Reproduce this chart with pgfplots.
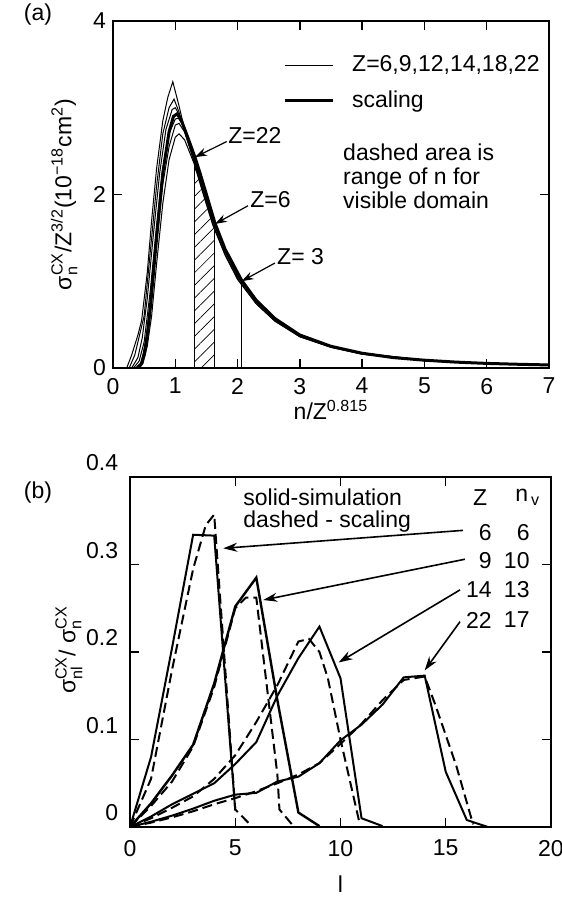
\documentclass[border=0pt]{standalone}
\usepackage{pgfplots}
\pgfplotsset{compat=1.18}
\usepackage{amsmath}
\usepackage{fontspec}
\setmainfont{Liberation Sans}
\usetikzlibrary{patterns.meta,arrows.meta}
\newcommand{\tf}{\fontsize{11.5}{13}\selectfont}
\newcommand{\lf}{\fontsize{11.5}{12}\selectfont}
\begin{document}
\begin{tikzpicture}
\useasboundingbox (0,0) rectangle (281pt,450pt);
\pgfplotsset{
  every axis/.append style={
    scale only axis, anchor=south west,
    tick align=inside, major tick length=4.5pt,
    axis line style={line width=0.85pt},
    every tick/.style={line width=0.7pt, black},
    ticklabel style={font=\tf},
    /pgf/number format/assume math mode=true,
    label style={font=\lf},
  }
}
% ---------------- panel (a) ----------------
\begin{axis}[
  at={(56.5pt,266pt)}, width=218pt, height=173.5pt,
  xmin=0, xmax=7, ymin=0, ymax=4,
  xtick={0,1,...,7}, ytick={0,2,4},
  xticklabel style={yshift=-1.5pt},
  xlabel={n/Z$^{\text{0.815}}$},
  xlabel style={at={(axis description cs:0.5,-0.121)}, anchor=center},
  ylabel={σ$^{\text{CX}}_{\text{n}}$/Z$^{\text{3/2}}$(10$^{\text{−18}}$cm$^{\text{2}}$)},
  ylabel style={at={(axis description cs:-0.112,0.5)}, anchor=center, rotate=0},
  legend style={at={(axis cs:2.63,3.285)}, anchor=west, draw=none, fill=none,
    font=\lf, row sep=8pt, nodes={inner sep=0pt},
    /tikz/every odd column/.append style={column sep=9pt}},
  legend cell align=left,
  legend image code/.code={\draw[#1] (0pt,0pt) -- (24pt,0pt);},
]
% hatched region (visible domain)
\addplot[draw=none, forget plot, pattern={Lines[angle=45,distance=4.5pt,line width=0.35pt]}]
  coordinates {(1.316,0) (1.316,2.43) (1.4,2.24) (1.5,2.0) (1.637,1.67) (1.637,0)} \closedcycle;
% thin curves Z=6,9,12,14,18,22
\addplot[line width=0.5pt] coordinates {(0.22,0) (0.3,0.15) (0.4,0.38) (0.46,0.55) (0.55,1.1) (0.62,1.7) (0.7,2.3) (0.8,2.85) (0.88,3.12) (0.96,3.3) (1.05,3.05) (1.15,2.75) (1.3,2.45) (1.45,2.1) (1.6,1.74) (1.8,1.37) (2.0,1.08) (2.3,0.78) (2.6,0.57) (3,0.38) (3.5,0.25) (4,0.17) (5,0.09) (6,0.053) (7,0.035)};
\addlegendentry{Z=6,9,12,14,18,22}
\addplot[line width=0.5pt, forget plot] coordinates {(0.26,0) (0.35,0.15) (0.44,0.42) (0.5,0.6) (0.6,1.35) (0.7,2.1) (0.8,2.7) (0.9,3.0) (0.98,3.1) (1.06,2.95) (1.15,2.72) (1.3,2.4) (1.45,2.05) (1.6,1.7) (1.8,1.34) (2.0,1.05) (2.3,0.76) (2.6,0.555) (3,0.37) (3.5,0.245) (4,0.165) (5,0.088) (6,0.052) (7,0.034)};
\addplot[line width=0.5pt, forget plot] coordinates {(0.3,0) (0.4,0.12) (0.47,0.35) (0.55,0.8) (0.65,1.55) (0.75,2.25) (0.85,2.75) (0.95,2.98) (1.0,3.0) (1.08,2.9) (1.15,2.76) (1.3,2.43) (1.45,2.08) (1.6,1.72) (1.8,1.35) (2.0,1.06) (2.3,0.77) (2.6,0.56) (3,0.375) (3.5,0.248) (4,0.168) (5,0.089) (6,0.053) (7,0.035)};
\addplot[line width=0.5pt, forget plot] coordinates {(0.33,0) (0.42,0.08) (0.5,0.3) (0.6,0.9) (0.7,1.65) (0.8,2.3) (0.9,2.7) (1.0,2.87) (1.05,2.88) (1.12,2.8) (1.3,2.47) (1.45,2.12) (1.6,1.75) (1.8,1.38) (2.0,1.09) (2.3,0.79) (2.6,0.575) (3,0.385) (3.5,0.252) (4,0.172) (5,0.091) (6,0.054) (7,0.035)};
\addplot[line width=0.5pt, forget plot] coordinates {(0.36,0) (0.45,0.06) (0.52,0.28) (0.6,0.72) (0.7,1.45) (0.8,2.12) (0.9,2.55) (1.0,2.8) (1.06,2.82) (1.15,2.72) (1.3,2.38) (1.45,2.02) (1.6,1.67) (1.8,1.31) (2.0,1.03) (2.3,0.74) (2.6,0.54) (3,0.36) (3.5,0.24) (4,0.16) (5,0.085) (6,0.05) (7,0.033)};
\addplot[line width=0.5pt, forget plot] coordinates {(0.4,0) (0.48,0.05) (0.55,0.25) (0.62,0.6) (0.7,1.2) (0.8,1.9) (0.9,2.4) (1.0,2.66) (1.06,2.7) (1.15,2.63) (1.3,2.36) (1.45,2.0) (1.6,1.65) (1.8,1.3) (2.0,1.02) (2.3,0.74) (2.6,0.54) (3,0.36) (3.5,0.238) (4,0.16) (5,0.085) (6,0.05) (7,0.033)};
% scaling (thick)
\addplot[line width=1.5pt] coordinates {(0.4,0) (0.45,0.04) (0.5,0.15) (0.55,0.38) (0.6,0.7) (0.7,1.5) (0.8,2.25) (0.9,2.72) (0.97,2.9) (1.03,2.93) (1.1,2.85) (1.2,2.66) (1.316,2.43) (1.4,2.24) (1.5,2.0) (1.637,1.67) (1.8,1.37) (2.066,1.01) (2.3,0.78) (2.6,0.57) (3.0,0.38) (3.5,0.25) (4.0,0.17) (4.5,0.12) (5.0,0.09) (5.5,0.068) (6.0,0.053) (6.5,0.043) (7.0,0.035)};
\addlegendentry{scaling}
% vertical lines
\addplot[line width=0.5pt, forget plot] coordinates {(1.316,0) (1.316,2.43)};
\addplot[line width=0.5pt, forget plot] coordinates {(1.637,0) (1.637,1.67)};
\addplot[line width=0.5pt, forget plot] coordinates {(2.066,0) (2.066,1.01)};
% annotations
\draw[line width=0.6pt, -{Stealth[length=6pt,width=4pt]}] (axis cs:1.825,2.61) -- (axis cs:1.316,2.43);
\draw[line width=0.6pt, -{Stealth[length=6pt,width=4pt]}] (axis cs:2.167,1.87) -- (axis cs:1.637,1.66);
\draw[line width=0.6pt, -{Stealth[length=6pt,width=4pt]}] (axis cs:2.6,1.21) -- (axis cs:2.066,1.0);
\node[anchor=west, inner sep=0pt, font=\lf] at (axis cs:1.846,2.68) {Z=22};
\node[anchor=west, inner sep=0pt, font=\lf] at (axis cs:2.2,1.94) {Z=6};
\node[anchor=west, inner sep=0pt, font=\lf] at (axis cs:2.63,1.28) {Z= 3};
\node[anchor=north west, inner sep=0pt, align=left, font=\lf] at (axis cs:3.69,2.594) {dashed area is\\range of n for\\visible domain};
\end{axis}
% ---------------- panel (b) ----------------
\begin{axis}[
  at={(65pt,36.5pt)}, width=210.5pt, height=175pt,
  xmin=0, xmax=20, ymin=0, ymax=0.4,
  xtick={0,5,10,15,20}, ytick={0,0.1,0.2,0.3,0.4},
  yticklabels={0,0.1,0.2,0.3,0.4},
  xticklabel style={yshift=-3pt},
  yticklabel style={yshift=7pt, xshift=-2.4pt},
  xlabel={l},
  xlabel style={at={(axis description cs:0.5,-0.163)}, anchor=center},
  ylabel={σ$^{\text{CX}}_{\text{nl}}$/ σ$^{\text{CX}}_{\text{n}}$},
  ylabel style={at={(axis description cs:-0.145,0.506)}, anchor=center},
  dashstyle/.style={line width=1pt, dash pattern=on 5pt off 2.5pt},
  solidstyle/.style={line width=1pt},
]
% Z=6
\addplot[solidstyle] coordinates {(0,0) (1,0.08) (2,0.205) (3,0.334) (4,0.333) (5,0.019)};
\addplot[dashstyle] coordinates {(0,0) (1,0.055) (2,0.18) (3,0.295) (3.6,0.345) (4,0.357) (5,0.02) (5.7,0.003)};
% Z=9
\addplot[solidstyle, line width=1.2pt] coordinates {(0,0) (1,0.027) (2,0.059) (3,0.094) (4,0.164) (5,0.252) (6,0.285) (7,0.145) (8,0.0165) (9,0.001)};
\addplot[dashstyle] coordinates {(0,0) (1,0.024) (2,0.052) (3,0.092) (4,0.16) (5,0.25) (5.5,0.262) (6,0.262) (7,0.06) (7.1,0.02) (7.8,0.0)};
% Z=14
\addplot[solidstyle] coordinates {(0,0) (1,0.012) (2,0.026) (3,0.038) (4,0.05) (5,0.072) (6,0.097) (7,0.15) (8,0.193) (9,0.229) (10,0.17) (11,0.01) (12,0.001)};
\addplot[dashstyle] coordinates {(0,0) (1,0.01) (2,0.022) (3,0.035) (4,0.055) (5,0.082) (6,0.12) (7,0.162) (8,0.212) (8.5,0.215) (9,0.2) (9.4,0.17) (10,0.1) (10.9,0.005)};
% Z=22
\addplot[solidstyle] coordinates {(0,0) (1,0.006) (2,0.013) (3,0.021) (4,0.03) (5,0.037) (6,0.039) (7,0.052) (8,0.0575) (9,0.073) (10,0.099) (11,0.117) (12,0.14) (13,0.171) (14,0.173) (15,0.063) (16,0.008) (17,0.0)};
\addplot[dashstyle] coordinates {(0,0) (1,0.005) (2,0.011) (3,0.018) (4,0.026) (5,0.033) (6,0.041) (7,0.05) (8,0.06) (9,0.073) (10,0.095) (11,0.118) (12,0.145) (13,0.168) (14,0.172) (14.5,0.14) (15.5,0.07) (16.3,0.003)};
% annotations
\node[anchor=north west, inner sep=0pt, align=left, font=\fontsize{11.5}{11}\selectfont] at (axis cs:5.37,0.387) {solid-simulation\\dashed - scaling};
\node[anchor=center, inner sep=0pt, font=\lf] at (axis cs:16.63,0.377) {Z};
\node[anchor=west, inner sep=0pt, font=\lf] at (axis cs:18.29,0.377) {n$_{\,\text{v}}$};
\node[anchor=east, inner sep=0pt, font=\lf] at (axis cs:17.2,0.337) {6};
\node[anchor=east, inner sep=0pt, font=\lf] at (axis cs:19.0,0.337) {6};
\node[anchor=east, inner sep=0pt, font=\lf] at (axis cs:17.2,0.305) {9};
\node[anchor=east, inner sep=0pt, font=\lf] at (axis cs:19.0,0.305) {10};
\node[anchor=east, inner sep=0pt, font=\lf] at (axis cs:17.2,0.271) {14};
\node[anchor=east, inner sep=0pt, font=\lf] at (axis cs:19.0,0.271) {13};
\node[anchor=east, inner sep=0pt, font=\lf] at (axis cs:17.2,0.2366) {22};
\node[anchor=east, inner sep=0pt, font=\lf] at (axis cs:19.0,0.2366) {17};
\draw[line width=0.8pt, -{Stealth[length=7pt,width=4.5pt]}] (axis cs:15.82,0.339) -- (axis cs:4.43,0.3185);
\draw[line width=0.8pt, -{Stealth[length=7pt,width=4.5pt]}] (axis cs:15.91,0.306) -- (axis cs:6.33,0.2594);
\draw[line width=0.8pt, -{Stealth[length=7pt,width=4.5pt]}] (axis cs:15.68,0.271) -- (axis cs:9.91,0.188);
\draw[line width=0.8pt, -{Stealth[length=7pt,width=4.5pt]}] (axis cs:15.68,0.2347) -- (axis cs:14.0,0.179);
\end{axis}
\node[font=\lf] at (19pt,442.5pt) {(a)};
\node[font=\lf] at (19pt,203.5pt) {(b)};
\end{tikzpicture}
\end{document}
